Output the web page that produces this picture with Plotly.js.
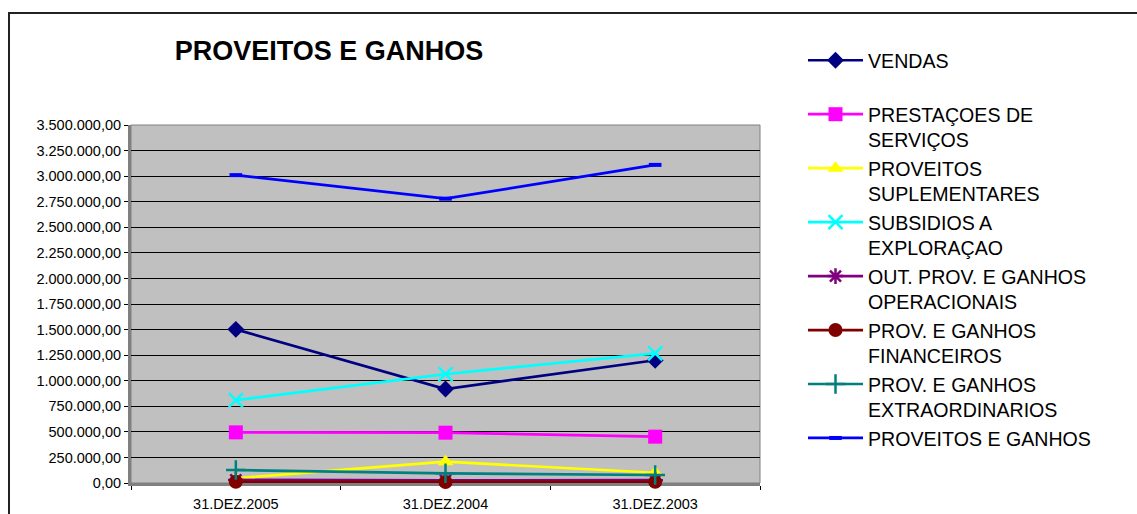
<!DOCTYPE html>
<html>
<head>
<meta charset="utf-8">
<script src="https://cdn.plot.ly/plotly-3.0.1.min.js"></script>
<style>
  html, body { margin: 0; padding: 0; background: #fff; }
  #wrap { position: relative; width: 1137px; height: 514px; overflow: hidden; }
  #frame { position: absolute; left: 8px; top: 12px; width: 1200px; height: 600px;
           border-left: 2px solid #222; border-top: 2px solid #222; pointer-events: none; }
  #chart { position: absolute; left: 0; top: 0; width: 1137px; height: 514px; }
</style>
</head>
<body>
<div id="wrap">
  <div id="chart"></div>
  <div id="frame"></div>
</div>
<script>
const categories = ["31.DEZ.2005", "31.DEZ.2004", "31.DEZ.2003"];

const vendas = [1502000, 919000, 1200000];
const prestacoes = [495000, 492000, 453000];
const proveitosSuplementares = [46000, 208000, 100000];
const subsidios = [811000, 1065000, 1268000];
const outProv = [30000, 25000, 28000];
const provFinanceiros = [12000, 10000, 11000];
const provExtraordinarios = [127000, 95000, 78000];
const proveitosGanhos = [3010000, 2780000, 3110000];

const seriesNames = [
  "VENDAS<br>&nbsp;",
  "PRESTAÇOES DE<br>SERVIÇOS",
  "PROVEITOS<br>SUPLEMENTARES",
  "SUBSIDIOS A<br>EXPLORAÇAO",
  "OUT. PROV. E GANHOS<br>OPERACIONAIS",
  "PROV. E GANHOS<br>FINANCEIROS",
  "PROV. E GANHOS<br>EXTRAORDINARIOS",
  "PROVEITOS E GANHOS"
];
const seriesValues = [vendas, prestacoes, proveitosSuplementares, subsidios,
  outProv, provFinanceiros, provExtraordinarios, proveitosGanhos];

const styles = [
  {color: "#000080", symbol: "diamond", size: 13, lw: 0},
  {color: "#FF00FF", symbol: "square", size: 14, lw: 0},
  {color: "#FFFF00", symbol: "triangle-up", size: 14, lw: 0},
  {color: "#00FFFF", symbol: "x-thin-open", size: 14, lw: 2.5},
  {color: "#800080", symbol: "asterisk-open", size: 13, lw: 2.5},
  {color: "#800000", symbol: "circle", size: 14, lw: 0},
  {color: "#008080", symbol: "cross-thin-open", size: 14, lw: 2.5},
  {color: "#0000FF", symbol: "line-ew-open", size: 9, lw: 4}
];

const traces = seriesValues.map((vals, i) => ({
  type: "scatter",
  mode: "lines+markers",
  x: categories,
  y: vals,
  name: seriesNames[i],
  line: {color: styles[i].color, width: 2.7},
  marker: {
    color: styles[i].color,
    symbol: styles[i].symbol,
    size: styles[i].size,
    line: {color: styles[i].color, width: styles[i].lw}
  },
  cliponaxis: false
}));

const tickVals = [];
for (let v = 0; v <= 3500000; v += 250000) tickVals.push(v);

const layout = {
  width: 1137,
  height: 514,
  margin: {l: 131, r: 377, t: 125, b: 31, pad: 0},
  paper_bgcolor: "rgba(0,0,0,0)",
  plot_bgcolor: "#C0C0C0",
  separators: ",.",
  font: {family: "Arial, 'Liberation Sans', sans-serif", color: "#000", size: 14.5},
  title: {
    text: "<b>PROVEITOS E GANHOS</b>",
    font: {size: 27, family: "Arial, 'Liberation Sans', sans-serif", color: "#000"},
    x: 329 / 1137, xanchor: "center", xref: "container",
    y: 1 - 51 / 514, yanchor: "middle", yref: "container"
  },
  xaxis: {
    type: "category",
    range: [-0.5, 2.5],
    tickson: "boundaries",
    ticks: "outside",
    ticklen: 4,
    tickcolor: "#000",
    showgrid: false,
    showline: true,
    linecolor: "#808080",
    linewidth: 3,
    layer: "below traces",
    tickfont: {size: 14.5},
    ticklabelstandoff: 6,
    fixedrange: true
  },
  yaxis: {
    range: [0, 3500000],
    tickvals: tickVals,
    tickformat: ",.2f",
    ticks: "outside",
    ticklen: 4,
    tickcolor: "#000",
    showgrid: true,
    gridcolor: "#000",
    gridwidth: 1,
    zeroline: false,
    showline: true,
    linecolor: "#808080",
    linewidth: 3,
    layer: "below traces",
    tickfont: {size: 14.5},
    fixedrange: true
  },
  shapes: [{
    type: "rect", xref: "paper", yref: "paper", x0: 0, x1: 1, y0: 0, y1: 1,
    line: {color: "#808080", width: 1}, layer: "below"
  }],
  showlegend: true,
  legend: {
    xref: "container", yref: "container",
    x: 803 / 1137, y: 1 - 41 / 514,
    xanchor: "left", yanchor: "top",
    valign: "top",
    maxheight: 1,
    bgcolor: "rgba(0,0,0,0)",
    borderwidth: 0,
    font: {size: 19.6, family: "Arial, 'Liberation Sans', sans-serif", color: "#000"},
    itemwidth: 55,
    traceorder: "normal"
  }
};

Plotly.newPlot("chart", traces, layout, {displayModeBar: false, staticPlot: true});
</script>
</body>
</html>
